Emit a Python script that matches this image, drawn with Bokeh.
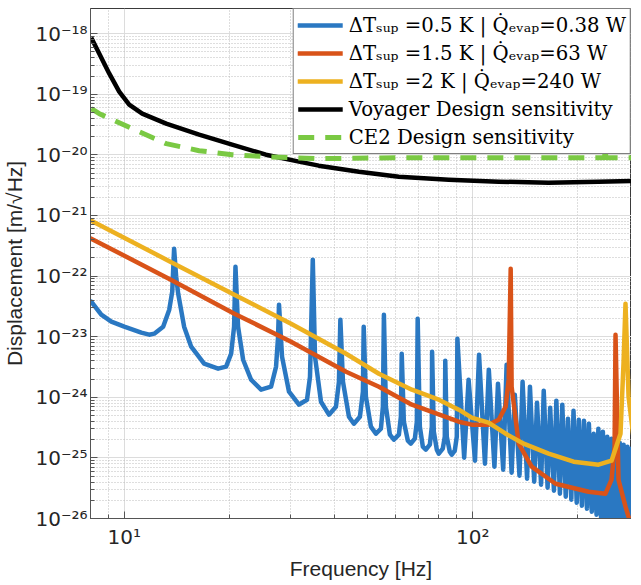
import numpy as np
from bokeh.plotting import figure
from bokeh.models import Range1d, FixedTicker, CustomJSTickFormatter, Legend, LegendItem
from bokeh.embed import file_html
from bokeh.resources import INLINE

# ---------------- data ----------------
# frequencies in Hz, displacement given as log10(m/sqrt(Hz))
blue_freq = [8.04, 8.59, 9.18, 10.0, 11.19, 11.79, 12.19, 12.93, 13.46, 13.73, 13.9,
             14.09, 14.28, 14.85, 15.56, 16.95, 18.59, 19.60, 20.26, 20.66, 20.85,
             21.21, 21.93, 23.12, 24.70, 26.38, 27.26, 27.63, 27.8,
             28.36, 29.70, 31.72, 33.45, 34.12, 34.75,
             35.27, 36.69, 38.67, 40.50, 41.31, 41.7,
             42.42, 44.13, 45.60, 47.45, 48.40, 48.65,
             49.36, 51.02, 52.74, 54.51, 55.23, 55.6,
             56.33, 57.84, 59.38, 61.38, 62.20, 62.55,
             63.44, 65.14, 66.43, 68.21, 69.12, 69.5,
             70.50, 71.91, 73.35, 75.31, 76.31, 76.45,
             77.32, 78.86, 79.91, 82.04, 83.14, 83.4,
             84.24, 85.93, 87.07, 88.81, 90.0, 90.35,
             94.5, 97.3, 101.5, 104.25, 108.4, 111.2, 115.4, 118.15, 122.3, 125.1,
             129.3, 132.05, 136.2, 139.0, 143.2, 145.95, 150.1, 152.9, 157.1, 159.85,
             164.0, 166.8, 171.0, 173.75, 177.9, 180.7, 184.9, 187.65, 191.8, 194.6,
             198.8, 201.55, 205.7, 208.5, 212.7, 215.45, 219.6, 222.4, 226.6, 229.35,
             233.5, 236.3, 240.5, 243.25, 247.4, 250.2, 254.4, 257.15, 261.3, 264.1,
             268.3, 271.05, 275.2, 278.0, 282.2, 284.95, 289.1, 291.9, 296.1, 298.85,
             302.0]
blue_log = [-22.422, -22.637, -22.752, -22.835, -22.934, -22.967, -22.950, -22.835, -22.554, -22.257, -21.548,
            -22.010, -22.290, -22.835, -23.165, -23.446, -23.528, -23.495, -23.281, -22.835, -21.845,
            -22.835, -23.380, -23.710, -23.875, -23.825, -23.495, -23.000, -22.472,
            -23.330, -23.908, -24.122, -24.040, -23.660, -21.729,
            -23.330, -24.073, -24.287, -24.155, -23.743, -22.719,
            -23.743, -24.320, -24.436, -24.320, -23.908, -22.835,
            -23.990, -24.485, -24.601, -24.518, -24.155, -22.637,
            -24.155, -24.617, -24.700, -24.617, -24.320, -23.281,
            -24.403, -24.716, -24.766, -24.683, -24.403, -22.703,
            -24.485, -24.815, -24.865, -24.782, -24.485, -23.248,
            -24.568, -24.865, -24.931, -24.848, -24.650, -23.396,
            -24.650, -24.898, -24.947, -24.881, -24.650, -23.033,
            -24.997, -23.710, -25.046, -23.297, -25.096, -23.545, -25.145, -23.776, -25.195, -23.462,
            -25.244, -23.957, -25.294, -23.743, -25.343, -23.825, -25.393, -24.089, -25.442, -23.891,
            -25.492, -24.172, -25.541, -24.056, -25.591, -24.122, -25.640, -24.353, -25.690, -24.221,
            -25.739, -24.370, -25.789, -24.386, -25.838, -24.436, -25.888, -24.601, -25.937, -24.518,
            -25.987, -24.568, -26.036, -24.650, -26.090, -24.683, -26.140, -24.733, -26.190, -24.749,
            -26.240, -24.782, -26.290, -24.815, -26.340, -24.848, -26.390, -24.881, -26.440, -24.914,
            -26.300]

red_freq = [8.04, 13.6, 20.7, 30.1, 43.3, 53.8, 66.9, 91.2, 99.3, 111.0, 118.7, 124.3,
            126.8, 128.5, 129.3, 135.5, 147.6, 172.9, 215.0, 240.4, 250.2, 255.3, 256.9,
            262.0, 274.4, 285.5]
red_log = [-21.383, -22.059, -22.620, -23.083, -23.578, -23.825, -24.122, -24.403, -24.452,
           -24.452, -24.370, -24.155, -23.709, -21.878, -23.825, -24.766, -25.145, -25.426,
           -25.558, -25.591, -25.360, -24.815, -22.967, -25.360, -25.805, -26.135]

yellow_freq = [8.04, 13.9, 20.7, 30.1, 43.3, 53.8, 66.9, 79.9, 91.2, 99.3, 111.0, 124.3,
               140.0, 165.1, 194.8, 229.6, 250.2, 265.5, 270.8, 274.4, 280.0, 293.0, 300.6]
yellow_log = [-21.086, -21.795, -22.307, -22.785, -23.281, -23.611, -23.875, -24.040,
              -24.205, -24.337, -24.419, -24.601, -24.766, -24.931, -25.063, -25.112,
              -25.046, -24.601, -23.446, -22.455, -23.990, -24.930, -25.310]

black_freq = [8.04, 8.48, 9.06, 9.67, 10.33, 11.26, 13.19, 16.40, 20.39, 25.50, 31.72,
              36.15, 47.15, 61.38, 85.33, 118.6, 165.0, 229.6, 300.6]
black_log = [-18.066, -18.330, -18.660, -18.957, -19.172, -19.320, -19.485, -19.667,
             -19.832, -19.997, -20.112, -20.178, -20.277, -20.360, -20.409, -20.442,
             -20.459, -20.442, -20.426]

green_freq = [8.04, 8.48, 10.54, 13.19, 16.40, 20.39, 25.50, 36.15, 61.38, 118.6,
              239.0, 240.0, 241.0, 300.6]
green_log = [-19.238, -19.320, -19.568, -19.815, -19.931, -19.997, -20.030, -20.063,
             -20.046, -20.046, -20.046, -19.865, -20.046, -20.046]

labels = ["ΔTₛᵤₚ =0.5 K | Q\u0307ₑᵥₐₚ=0.38 W",
          "ΔTₛᵤₚ =1.5 K | Q\u0307ₑᵥₐₚ=63 W",
          "ΔTₛᵤₚ =2 K | Q\u0307ₑᵥₐₚ=240 W",
          "Voyager Design sensitivity",
          "CE2 Design sensitivity"]

x_major = [10, 100]
x_minor = [8, 9, 20, 30, 40, 50, 60, 70, 80, 90, 200]
y_decades = list(range(-26, -17))

# ---------------- figure ----------------
p = figure(frame_width=541, frame_height=510, x_axis_type="log", y_axis_type="log",
           x_range=Range1d(8.0, 285.5), y_range=Range1d(1e-26, 2.6e-18),
           output_backend="svg", toolbar_location=None,
           min_border_left=84, min_border_right=0, min_border_top=8, min_border_bottom=59)
p.background_fill_color = "white"
p.outline_line_color = "#3a3a3a"
p.outline_line_width = 1

def tolin(a):
    return 10.0 ** np.array(a)

common = dict(line_width=4.5, line_join="round", line_cap="round")
r_blue = p.line(blue_freq, tolin(blue_log), line_color="#2A78C2", **common)
r_red = p.line(red_freq, tolin(red_log), line_color="#D95319", **common)
r_yel = p.line(yellow_freq, tolin(yellow_log), line_color="#EDB120", **common)
r_blk = p.line(black_freq, tolin(black_log), line_color="black", line_width=4.5, line_join="round")
r_grn = p.line(green_freq, tolin(green_log), line_color="#7AC943", line_width=5,
               line_dash="16 11")

# ticks
p.xaxis[0].ticker = FixedTicker(ticks=x_major, minor_ticks=x_minor)
p.yaxis[0].ticker = FixedTicker(ticks=[10.0 ** e for e in y_decades],
                                minor_ticks=[k * 10.0 ** e for e in y_decades[:-1] for k in range(2, 10)])
sup_code = """
const s = {'-': '\u207b', '0': '\u2070', '1': '\u00b9', '2': '\u00b2', '3': '\u00b3',
           '4': '\u2074', '5': '\u2075', '6': '\u2076', '7': '\u2077', '8': '\u2078', '9': '\u2079'};
const e = Math.round(Math.log10(tick));
return '10' + String(e).split('').map((c) => s[c]).join('');
"""
p.xaxis[0].formatter = CustomJSTickFormatter(code=sup_code)
p.yaxis[0].formatter = CustomJSTickFormatter(code=sup_code)

p.xaxis.axis_label = "Frequency [Hz]"
p.yaxis.axis_label = "Displacement [m/√Hz]"
for ax in (p.xaxis[0], p.yaxis[0]):
    ax.major_label_text_font = "DejaVu Sans"
    ax.major_label_text_font_size = "20px"
    ax.major_label_text_color = "#262626"
    ax.axis_label_text_font = "Liberation Sans"
    ax.axis_label_text_font_size = "21px"
    ax.axis_label_text_font_style = "normal"
    ax.axis_label_text_color = "#262626"
    ax.axis_line_color = "#555555"
    ax.major_tick_line_color = "#555555"
    ax.minor_tick_line_color = "#555555"
    ax.major_tick_in = 7
    ax.major_tick_out = 0
    ax.minor_tick_in = 4
    ax.minor_tick_out = 0
p.yaxis[0].major_label_standoff = 3
p.yaxis[0].axis_label_standoff = 6
p.xaxis[0].major_label_standoff = 6
p.xaxis[0].axis_label_standoff = 5

for g in (p.xgrid[0], p.ygrid[0]):
    g.grid_line_color = "#dcdcdc"
    g.grid_line_width = 1
    g.minor_grid_line_color = "#bdbdbd"
    g.minor_grid_line_dash = "1 2"
    g.minor_grid_line_width = 1

legend = Legend(items=[LegendItem(label=labels[0], renderers=[r_blue]),
                       LegendItem(label=labels[1], renderers=[r_red]),
                       LegendItem(label=labels[2], renderers=[r_yel]),
                       LegendItem(label=labels[3], renderers=[r_blk]),
                       LegendItem(label=labels[4], renderers=[r_grn])],
                location="top_right", margin=0, padding=4, spacing=4,
                glyph_width=45, glyph_height=24, label_height=24, label_standoff=6,
                label_text_font="DejaVu Serif", label_text_font_size="19.7px",
                label_text_color="black",
                border_line_color="black", border_line_width=1.3,
                background_fill_color="white", background_fill_alpha=1.0)
p.add_layout(legend)

open("out.html", "w").write(file_html(p, INLINE))
